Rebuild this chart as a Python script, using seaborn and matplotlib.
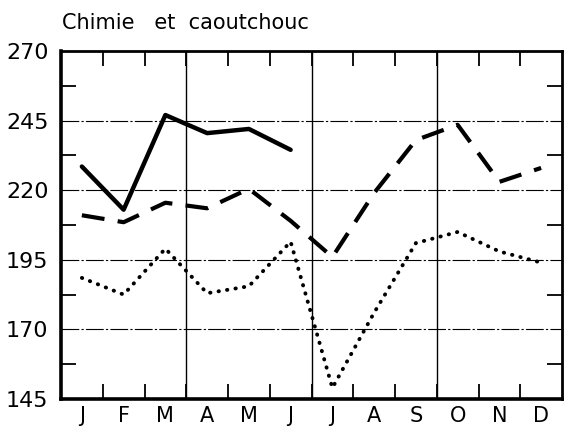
import numpy as np
import pandas as pd
import matplotlib
matplotlib.use("Agg")
import matplotlib.pyplot as plt
import seaborn as sns

# Data
months = ["J", "F", "M", "A", "M", "J", "J", "A", "S", "O", "N", "D"]
solid_vals = [228.5, 213, 247, 240.5, 242, 234.5]
dashed_vals = [211, 208.5, 215.5, 213.5, 220.5, 209, 196, 219, 238, 243.5, 223, 228]
dotted_vals = [188.5, 182.5, 199, 183, 185.5, 201.5, 149, 176, 201, 205, 198, 194]
y_ticks = [145, 170, 195, 220, 245, 270]
title = "Chimie   et  caoutchouc"

sns.set_style("ticks")
plt.rcParams["font.family"] = ["DejaVu Sans"]
plt.rcParams["text.color"] = "black"
plt.rcParams["xtick.color"] = "black"
plt.rcParams["ytick.color"] = "black"
plt.rcParams["xtick.labelcolor"] = "black"
plt.rcParams["ytick.labelcolor"] = "black"

fig = plt.figure(figsize=(5.72, 4.30), dpi=100)
ax = fig.add_axes([61 / 572, 31 / 430, 501 / 572, 348 / 430])

pos = np.arange(len(months)) + 0.5

sns.lineplot(x=pos[:len(solid_vals)], y=solid_vals, ax=ax, color="black",
             linewidth=3.2)
sns.lineplot(x=pos, y=dashed_vals, ax=ax, color="black", linewidth=3.0)
ax.lines[-1].set_dashes([5.5, 3.2])
sns.lineplot(x=pos, y=dotted_vals, ax=ax, color="black", linewidth=2.8)
ax.lines[-1].set_linestyle((0, (0.1, 2.1)))
ax.lines[-1].set_dash_capstyle("round")

ax.set_xlim(0, 12)
ax.set_ylim(145, 270)

# grid lines
for gy in y_ticks[1:-1]:
    ax.axhline(gy, color="black", linewidth=0.8, linestyle=(0, (16, 2, 2, 2)), zorder=0)
for gx in [3, 6, 9]:
    ax.axvline(gx, color="black", linewidth=1.0, zorder=0)

# ticks
ax.set_xticks(pos)
ax.set_xticklabels(months, fontsize=15)
ax.set_xticks(np.arange(1, 12), minor=True)
ax.tick_params(axis="x", which="major", length=0, pad=5)
ax.tick_params(axis="x", which="minor", direction="in", length=11, width=1.3,
               top=True, bottom=True)
ax.set_yticks(y_ticks)
ax.set_yticklabels([str(v) for v in y_ticks], fontsize=16)
ax.set_yticks(np.arange(157.5, 270, 25), minor=True)
ax.tick_params(axis="y", which="major", length=0, pad=9)
ax.tick_params(axis="y", which="minor", direction="in", length=11, width=1.3,
               left=True, right=True)

for side, lw in [("left", 2.6), ("bottom", 2.6), ("top", 2.0), ("right", 2.0)]:
    ax.spines[side].set_visible(True)
    ax.spines[side].set_linewidth(lw)
    ax.spines[side].set_color("black")

ax.set_xlabel("")
ax.set_ylabel("")
fig.text(62 / 572, 1 - 29 / 430, title, fontsize=15, ha="left", va="baseline")

fig.savefig("out.png", dpi=100)
